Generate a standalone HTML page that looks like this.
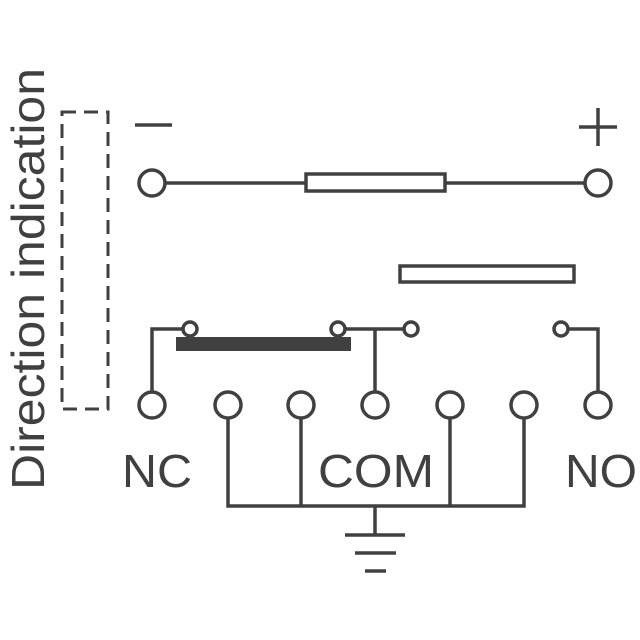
<!DOCTYPE html>
<html><head><style>html,body{margin:0;padding:0;background:#fff}</style></head>
<body>
<svg width="640" height="640" viewBox="0 0 640 640" xmlns="http://www.w3.org/2000/svg" style="display:block">
<g stroke="#404040" stroke-width="3.5" fill="none">
<rect x="62" y="112" width="46" height="297" stroke-dasharray="14,8" stroke-width="3"/>
<line x1="135" y1="125" x2="172" y2="125"/>
<line x1="579" y1="127" x2="617" y2="127"/><line x1="598" y1="108" x2="598" y2="146"/>
<line x1="165" y1="183" x2="306" y2="183"/><line x1="445" y1="183" x2="585" y2="183"/>
<rect x="306" y="174" width="139" height="17"/>
<rect x="400" y="266" width="174" height="16"/>
<polyline points="152,392 152,329 183,329"/>
<polyline points="345,329 404,329"/><line x1="375" y1="329" x2="375" y2="392"/>
<polyline points="568,329 598,329 598,392"/>
<circle cx="190" cy="329" r="7"/><circle cx="338" cy="329" r="7"/><circle cx="411" cy="329" r="7"/><circle cx="561" cy="329" r="7"/>
<circle cx="152" cy="183" r="13"/><circle cx="598" cy="183" r="13"/>
<circle cx="152" cy="405" r="13"/><circle cx="228" cy="405" r="13"/><circle cx="301" cy="405" r="13"/><circle cx="375" cy="405" r="13"/><circle cx="450" cy="405" r="13"/><circle cx="524" cy="405" r="13"/><circle cx="598" cy="405" r="13"/>
<polyline points="228,418 228,506 524,506 524,418"/>
<line x1="301" y1="418" x2="301" y2="506"/><line x1="450" y1="418" x2="450" y2="506"/>
<line x1="375" y1="506" x2="375" y2="535"/>
<line x1="345" y1="535" x2="405" y2="535"/><line x1="355" y1="553" x2="396" y2="553"/><line x1="365" y1="571" x2="386" y2="571"/>
</g>
<rect x="176" y="337" width="175" height="14" fill="#404040"/>
<g fill="#404040" font-family="Liberation Sans, sans-serif" font-size="46">
<text x="122" y="487" textLength="70" lengthAdjust="spacingAndGlyphs">NC</text>
<text x="318" y="487" textLength="116" lengthAdjust="spacingAndGlyphs">COM</text>
<text x="565" y="487" textLength="72" lengthAdjust="spacingAndGlyphs">NO</text>
<text transform="translate(44,490) rotate(-90)" x="0" y="0" textLength="422" lengthAdjust="spacingAndGlyphs">Direction indication</text>
</g>
</svg>
</body></html>
